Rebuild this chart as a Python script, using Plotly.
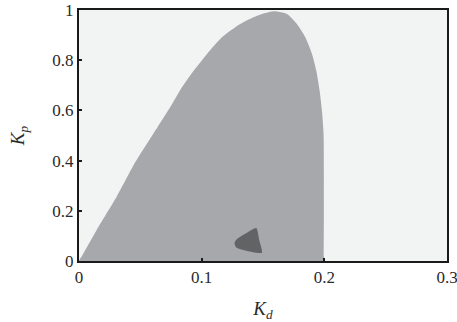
import plotly.graph_objects as go

# --- stability region boundary (Kd, Kp) ---
region_kd = [0.0, 0.0025, 0.0144, 0.0308, 0.0457, 0.0602, 0.0757, 0.0838, 0.0933, 0.1042,
             0.1165, 0.1314, 0.1451, 0.1586, 0.1696, 0.1777, 0.1845, 0.1900,
             0.1935, 0.1962, 0.1981, 0.1994, 0.1996, 0.1996, 0.1996, 0.195, 0.1, 0.005, 0.0]
region_kp = [0.0, 0.021, 0.124, 0.257, 0.392, 0.504, 0.624, 0.691, 0.757, 0.824,
             0.891, 0.944, 0.977, 0.995, 0.984, 0.944, 0.891, 0.824,
             0.757, 0.677, 0.597, 0.504, 0.244, 0.02, 0.0, 0.0, 0.0, 0.0, 0.0]

# --- small dark sub-region ---
inner_kd = [0.1445, 0.1370, 0.1314, 0.1280, 0.1268, 0.1282, 0.1355, 0.1491, 0.1469, 0.1445]
inner_kp = [0.131, 0.113, 0.097, 0.084, 0.071, 0.054, 0.042, 0.033, 0.084, 0.131]

x_ticks = [0, 0.1, 0.2, 0.3]
x_labels = ['0', '0.1', '0.2', '0.3']
y_ticks = [0, 0.2, 0.4, 0.6, 0.8, 1]
y_labels = ['0', '0.2', '0.4', '0.6', '0.8', '1']

fig = go.Figure()
fig.add_trace(go.Scatter(x=region_kd, y=region_kp, fill='toself', mode='lines',
                         fillcolor='#a7a8ab', line=dict(width=0, color='#a7a8ab',
                                                        shape='spline', smoothing=0.6),
                         hoverinfo='skip'))
fig.add_trace(go.Scatter(x=inner_kd, y=inner_kp, fill='toself', mode='lines',
                         fillcolor='#616365', line=dict(width=0, color='#616365',
                                                        shape='spline', smoothing=0.6),
                         hoverinfo='skip'))

font = dict(family='Liberation Serif, DejaVu Serif, serif', size=17, color='#2a2a2a')
title_font = dict(family='Liberation Serif, DejaVu Serif, serif', size=19, color='#2a2a2a')

fig.update_layout(
    width=457, height=322,
    margin=dict(l=79, r=10, t=10, b=61),
    showlegend=False,
    plot_bgcolor='#f2f4f4',
    paper_bgcolor='white',
    font=font,
)
axis_style = dict(showgrid=False, zeroline=False, showline=True, mirror=True,
                  linecolor='#1a1a1a', linewidth=2, ticks='inside', ticklen=3,
                  tickwidth=2, tickcolor='#1a1a1a', tickfont=font, automargin=False,
                  ticklabeloverflow='allow')
fig.update_xaxes(range=[0, 0.3], tickvals=x_ticks, ticktext=x_labels,
                 title=dict(text='<i>K</i><sub><i>d</i></sub>', standoff=16, font=title_font),
                 **axis_style)
fig.update_yaxes(range=[0, 1], tickvals=y_ticks, ticktext=y_labels,
                 title=dict(text='<i>K</i><sub><i>p</i></sub>', standoff=23, font=title_font),
                 **axis_style)

# the page's default body margin would shift the figure inside the window
fig.write_html("out.html", config={'displayModeBar': False},
               post_script="document.body.style.margin='0';document.body.style.overflow='hidden';")
